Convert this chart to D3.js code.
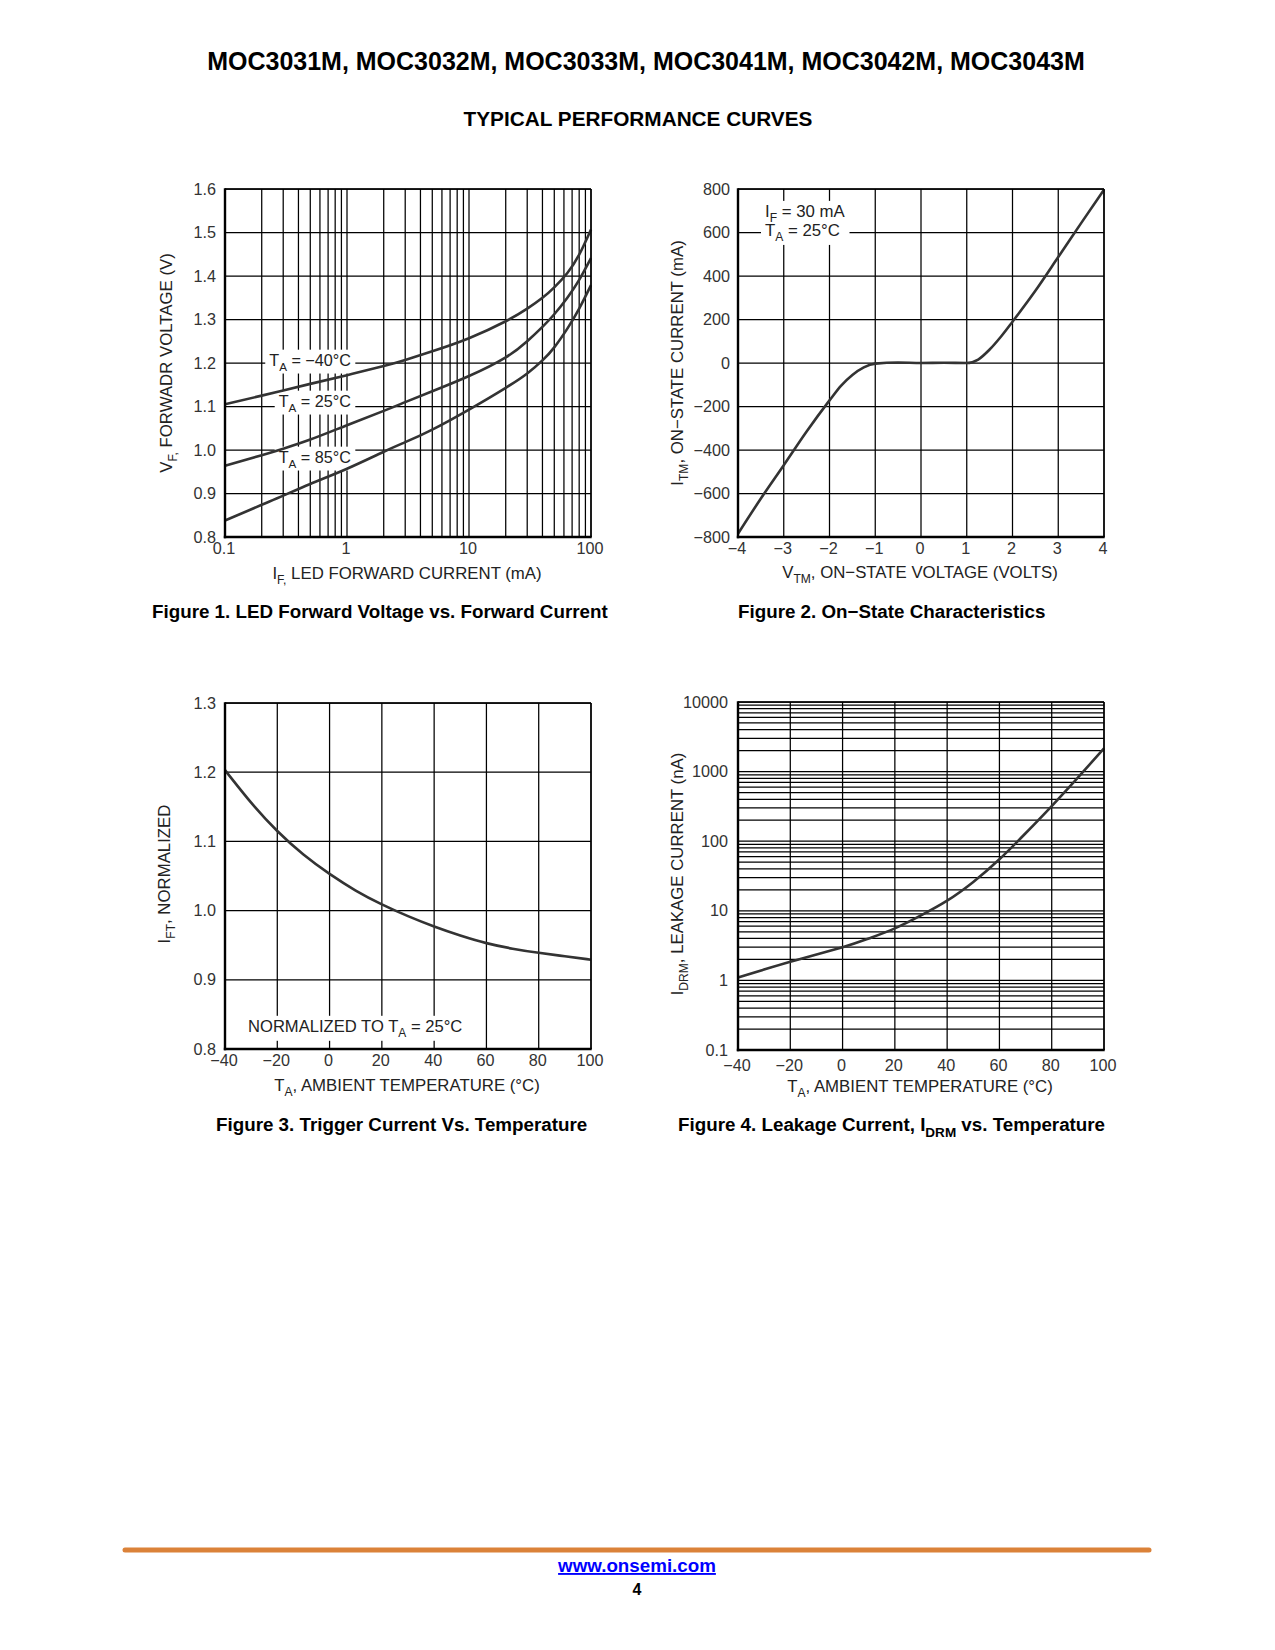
<!DOCTYPE html>
<html><head><meta charset="utf-8">
<script src="https://cdn.jsdelivr.net/npm/d3@7"></script>
<style>
body{margin:0;background:#fff}
svg{display:block}
text{font-family:"Liberation Sans",Arial,Helvetica,sans-serif}
</style>
</head><body>
<svg id="page" width="1275" height="1650"></svg>
<script>
// ---------------- DATA ----------------
// Figure 1: LED forward voltage vs forward current
const fig1Current = [0.1, 0.2, 0.3, 0.5, 1, 2, 3, 5, 10, 20, 30, 40, 50, 64, 80, 100];
const fig1Vm40 = [1.105, 1.125, 1.137, 1.152, 1.172, 1.193, 1.207, 1.227, 1.257, 1.296, 1.325, 1.350, 1.374, 1.407, 1.449, 1.507];
const fig1V25  = [0.964, 0.988, 1.003, 1.024, 1.057, 1.090, 1.110, 1.135, 1.170, 1.213, 1.250, 1.283, 1.312, 1.350, 1.391, 1.441];
const fig1V85  = [0.838, 0.874, 0.895, 0.922, 0.957, 0.996, 1.018, 1.047, 1.093, 1.143, 1.176, 1.206, 1.236, 1.279, 1.325, 1.379];
const fig1SeriesLabels = ["\u221240\u00B0C", "25\u00B0C", "85\u00B0C"];
const fig1XTicks = [0.1, 1, 10, 100];
const fig1YTicks = [0.8, 0.9, 1.0, 1.1, 1.2, 1.3, 1.4, 1.5, 1.6];

// Figure 2: on-state characteristics
const fig2Volt = [-4, -3.5, -3, -2.5, -2, -1.75, -1.5, -1.25, -1, -0.5, 0, 0.5, 1, 1.25, 1.5, 1.75, 2, 2.5, 3, 3.5, 4];
const fig2Curr = [-785, -623, -470, -315, -172, -105, -55, -20, -3, 2, 0, 1, 0, 16, 62, 122, 190, 332, 487, 643, 797];
const fig2XTicks = [-4, -3, -2, -1, 0, 1, 2, 3, 4];
const fig2YTicks = [-800, -600, -400, -200, 0, 200, 400, 600, 800];

// Figure 3: trigger current vs temperature
const fig3Temp = [-40, -30, -20, -10, 0, 10, 20, 30, 40, 50, 60, 70, 80, 90, 100];
const fig3Ift  = [1.203, 1.156, 1.115, 1.081, 1.053, 1.029, 1.009, 0.992, 0.977, 0.964, 0.953, 0.945, 0.939, 0.934, 0.929];
const fig3XTicks = [-40, -20, 0, 20, 40, 60, 80, 100];
const fig3YTicks = [0.8, 0.9, 1.0, 1.1, 1.2, 1.3];

// Figure 4: leakage current vs temperature
const fig4Temp = [-40, -20, 0, 10, 20, 30, 40, 50, 60, 70, 80, 90, 100];
const fig4Idrm = [1.1, 1.85, 3.0, 4.0, 5.6, 8.6, 14, 26, 55, 130, 320, 820, 2150];
const fig4XTicks = [-40, -20, 0, 20, 40, 60, 80, 100];
const fig4YTicks = [0.1, 1, 10, 100, 1000, 10000];

// ---------------- HELPERS ----------------
const svg = d3.select("#page");
const defs = svg.append("defs");
const MINUS = "\u2212";
const fmtNum = v => (v < 0 ? MINUS + Math.abs(v) : String(v));
const TICK_FS = 16.2, TITLE_FS = 16.8, CAP_FS = 18.8;

function rich(textSel, parts, size) {
  let shifted = false;
  parts.forEach(p => {
    const ts = textSel.append("tspan").text(p[0]);
    if (p[1]) { ts.attr("font-size", size * 0.72).attr("dy", size * 0.3); shifted = true; }
    else if (shifted) { ts.attr("dy", -size * 0.3); shifted = false; }
  });
  return textSel;
}

// mask that removes the grid behind in-plot labels
function makeMask(id) {
  const m = defs.append("mask").attr("id", id).attr("maskUnits", "userSpaceOnUse")
    .attr("x", 0).attr("y", 0).attr("width", 1275).attr("height", 1650);
  m.append("rect").attr("x", 0).attr("y", 0).attr("width", 1275).attr("height", 1650).attr("fill", "#fff");
  return m;
}
function cutOut(mask, nodes, padX, padY) {
  let x0 = Infinity, y0 = Infinity, x1 = -Infinity, y1 = -Infinity;
  nodes.forEach(n => {
    const b = n.node().getBBox();
    x0 = Math.min(x0, b.x); y0 = Math.min(y0, b.y);
    x1 = Math.max(x1, b.x + b.width); y1 = Math.max(y1, b.y + b.height);
  });
  mask.append("rect").attr("x", x0 - padX).attr("y", y0 - padY)
    .attr("width", x1 - x0 + 2 * padX).attr("height", y1 - y0 + 2 * padY).attr("fill", "#000");
}

function frame(g, x0, x1, y0, y1) {
  g.append("line").attr("x1", x0).attr("x2", x1).attr("y1", y0).attr("y2", y0).attr("stroke", "#000").attr("stroke-width", 1.4);
  g.append("line").attr("x1", x1).attr("x2", x1).attr("y1", y0).attr("y2", y1).attr("stroke", "#000").attr("stroke-width", 1.4);
  g.append("line").attr("x1", x0).attr("x2", x0).attr("y1", y0 - 0.7).attr("y2", y1 + 1.2).attr("stroke", "#000").attr("stroke-width", 2.4);
  g.append("line").attr("x1", x0 - 1.2).attr("x2", x1 + 0.7).attr("y1", y1).attr("y2", y1).attr("stroke", "#000").attr("stroke-width", 2.4);
}

function grid(g, xs, ys, xVals, yVals, maskId) {
  const [x0, x1] = xs.range(), [y1, y0] = ys.range();
  const gg = g.append("g");
  if (maskId) gg.attr("mask", `url(#${maskId})`);
  gg.append("g").selectAll("line").data(xVals).join("line")
    .attr("x1", d => xs(d)).attr("x2", d => xs(d)).attr("y1", y0).attr("y2", y1)
    .attr("stroke", "#000").attr("stroke-width", 1.25);
  gg.append("g").selectAll("line").data(yVals).join("line")
    .attr("x1", x0).attr("x2", x1).attr("y1", d => ys(d)).attr("y2", d => ys(d))
    .attr("stroke", "#000").attr("stroke-width", 1.25);
}

function tickLabels(g, xs, ys, xTicks, yTicks, xFmt, yFmt, xOff, yOff) {
  const ax = d3.axisBottom(xs).tickValues(xTicks).tickFormat(xFmt).tickSize(0).tickPadding(xOff);
  const ay = d3.axisLeft(ys).tickValues(yTicks).tickFormat(yFmt).tickSize(0).tickPadding(yOff);
  const gx = g.append("g").attr("transform", `translate(-1.5,${ys.range()[0]})`).call(ax);
  const gy = g.append("g").attr("transform", `translate(${xs.range()[0]},0)`).call(ay);
  [gx, gy].forEach(a => {
    a.select(".domain").remove();
    a.selectAll("text").attr("font-size", TICK_FS).attr("fill", "#333")
      .attr("font-family", '"Liberation Sans",Arial,sans-serif');
  });
}

function axisTitles(g, xt, yt, xPos, yPos) {
  rich(g.append("text").attr("x", xPos[0]).attr("y", xPos[1]).attr("text-anchor", "middle")
    .attr("font-size", TITLE_FS).attr("fill", "#222"), xt, TITLE_FS);
  rich(g.append("text").attr("transform", `translate(${yPos[0]},${yPos[1]}) rotate(-90)`)
    .attr("text-anchor", "middle").attr("font-size", TITLE_FS).attr("fill", "#222"), yt, TITLE_FS);
}

function curve(g, xs, ys, xv, yv, kind) {
  const pts = xv.map((x, i) => [xs(x), ys(yv[i])]);
  g.append("path").attr("d", d3.line().curve(kind || d3.curveNatural)(pts))
    .attr("fill", "none").attr("stroke", "#333").attr("stroke-width", 2.6)
    .attr("stroke-linejoin", "round");
}

function caption(x, y, parts) {
  return rich(svg.append("text").attr("x", x).attr("y", y).attr("font-size", CAP_FS)
    .attr("font-weight", "bold").attr("fill", "#000"), parts, CAP_FS);
}

function fitText(sel, width) {
  const w = sel.node().getComputedTextLength();
  const fs = parseFloat(sel.attr("font-size"));
  sel.attr("font-size", fs * width / w);
}

// ---------------- PAGE HEADER ----------------
fitText(svg.append("text").attr("x", 646).attr("y", 70).attr("text-anchor", "middle")
  .attr("font-size", 24).attr("font-weight", "bold").attr("fill", "#000")
  .text("MOC3031M, MOC3032M, MOC3033M, MOC3041M, MOC3042M, MOC3043M"), 878);
fitText(svg.append("text").attr("x", 638).attr("y", 126).attr("text-anchor", "middle")
  .attr("font-size", 20).attr("font-weight", "bold").attr("fill", "#000")
  .text("TYPICAL PERFORMANCE CURVES"), 349);

// ---------------- FIGURE 1 ----------------
{
  const g = svg.append("g");
  const mask = makeMask("m1");
  const xs = d3.scaleLog().domain([0.1, 100]).range([225, 591]);
  const ys = d3.scaleLinear().domain([0.8, 1.6]).range([537, 189]);
  grid(g, xs, ys, xs.ticks(), fig1YTicks, "m1");
  [fig1Vm40, fig1V25, fig1V85].forEach(s => curve(g, xs, ys, fig1Current, s));
  const labelY = [360, 401, 457];
  fig1SeriesLabels.forEach((lab, i) => {
    const t = rich(g.append("text").attr("x", 351).attr("y", labelY[i]).attr("dy", "0.35em")
      .attr("text-anchor", "end").attr("font-size", TICK_FS).attr("fill", "#222"),
      [["T", 0], ["A", 1], [" = " + lab, 0]], TICK_FS);
    cutOut(mask, [t], 4, 1);
  });
  frame(g, 225, 591, 189, 537);
  tickLabels(g, xs, ys, fig1XTicks, fig1YTicks, d => String(d), d => d.toFixed(1), 5, 9);
  axisTitles(g, [["I", 0], ["F,", 1], [" LED FORWARD CURRENT (mA)", 0]],
    [["V", 0], ["F,", 1], [" FORWADR VOLTAGE (V)", 0]], [407, 579], [172, 363]);
  caption(152, 618, [["Figure 1. LED Forward Voltage vs. Forward Current", 0]]);
}

// ---------------- FIGURE 2 ----------------
{
  const g = svg.append("g");
  const mask = makeMask("m2");
  const xs = d3.scaleLinear().domain([-4, 4]).range([738, 1104]);
  const ys = d3.scaleLinear().domain([-800, 800]).range([537, 189]);
  grid(g, xs, ys, fig2XTicks, fig2YTicks, "m2");
  curve(g, xs, ys, fig2Volt, fig2Curr, d3.curveMonotoneX);
  const t1 = rich(g.append("text").attr("x", 765).attr("y", 211).attr("dy", "0.35em")
    .attr("font-size", TITLE_FS).attr("fill", "#222"), [["I", 0], ["F", 1], [" = 30 mA", 0]], TITLE_FS);
  const t2 = rich(g.append("text").attr("x", 765).attr("y", 230).attr("dy", "0.35em")
    .attr("font-size", TITLE_FS).attr("fill", "#222"), [["T", 0], ["A", 1], [" = 25\u00B0C", 0]], TITLE_FS);
  cutOut(mask, [t1, t2], 4, 1);
  frame(g, 738, 1104, 189, 537);
  tickLabels(g, xs, ys, fig2XTicks, fig2YTicks, fmtNum, fmtNum, 5, 8);
  axisTitles(g, [["V", 0], ["TM", 1], [", ON\u2212STATE VOLTAGE (VOLTS)", 0]],
    [["I", 0], ["TM", 1], [", ON\u2212STATE CURRENT (mA)", 0]], [920, 578], [683, 363]);
  caption(738, 618, [["Figure 2. On\u2212State Characteristics", 0]]);
}

// ---------------- FIGURE 3 ----------------
{
  const g = svg.append("g");
  const mask = makeMask("m3");
  const xs = d3.scaleLinear().domain([-40, 100]).range([225, 591]);
  const ys = d3.scaleLinear().domain([0.8, 1.3]).range([1049, 703]);
  grid(g, xs, ys, fig3XTicks, fig3YTicks, "m3");
  curve(g, xs, ys, fig3Temp, fig3Ift);
  const t = rich(g.append("text").attr("x", 248).attr("y", 1026).attr("dy", "0.35em")
    .attr("font-size", 16.6).attr("fill", "#222"),
    [["NORMALIZED TO T", 0], ["A", 1], [" = 25\u00B0C", 0]], 16.6);
  cutOut(mask, [t], 2, 1);
  frame(g, 225, 591, 703, 1049);
  tickLabels(g, xs, ys, fig3XTicks, fig3YTicks, fmtNum, d => d.toFixed(1), 5, 9);
  axisTitles(g, [["T", 0], ["A", 1], [", AMBIENT TEMPERATURE (\u00B0C)", 0]],
    [["I", 0], ["FT", 1], [", NORMALIZED", 0]], [407, 1091], [170, 874]);
  caption(216, 1131, [["Figure 3. Trigger Current Vs. Temperature", 0]]);
}

// ---------------- FIGURE 4 ----------------
{
  const g = svg.append("g");
  const xs = d3.scaleLinear().domain([-40, 100]).range([738, 1104]);
  const ys = d3.scaleLog().domain([0.1, 10000]).range([1050, 702]);
  grid(g, xs, ys, fig4XTicks, ys.ticks());
  curve(g, xs, ys, fig4Temp, fig4Idrm);
  frame(g, 738, 1104, 702, 1050);
  tickLabels(g, xs, ys, fig4XTicks, fig4YTicks, fmtNum, d => String(d), 9, 10);
  axisTitles(g, [["T", 0], ["A", 1], [", AMBIENT TEMPERATURE (\u00B0C)", 0]],
    [["I", 0], ["DRM", 1], [", LEAKAGE CURRENT (nA)", 0]], [920, 1092], [683, 874]);
  caption(678, 1131, [["Figure 4. Leakage Current, I", 0], ["DRM", 1], [" vs. Temperature", 0]]);
}

// ---------------- FOOTER ----------------
svg.append("line").attr("x1", 125).attr("x2", 1149).attr("y1", 1550).attr("y2", 1550)
  .attr("stroke", "#db8239").attr("stroke-width", 5).attr("stroke-linecap", "round");
fitText(svg.append("text").attr("x", 637).attr("y", 1572).attr("text-anchor", "middle")
  .attr("font-size", 18).attr("font-weight", "bold").attr("fill", "#0000ff")
  .attr("text-decoration", "underline").text("www.onsemi.com"), 158);
svg.append("text").attr("x", 637).attr("y", 1595).attr("text-anchor", "middle")
  .attr("font-size", 16).attr("font-weight", "bold").attr("fill", "#000").text("4");
</script>
</body></html>
